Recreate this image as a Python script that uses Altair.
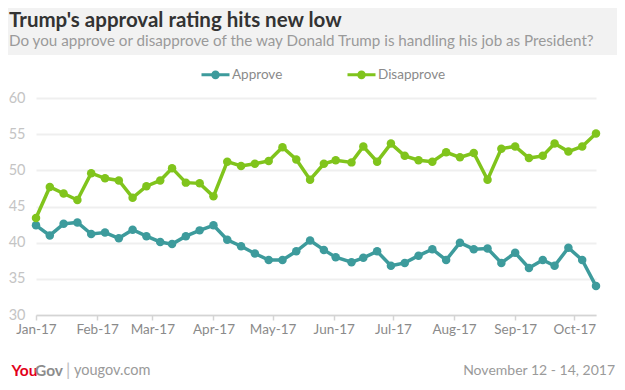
import altair as alt
import pandas as pd

# ---- data ----
dates = [
    "2017/01/01", "2017/01/08", "2017/01/15", "2017/01/22", "2017/01/29",
    "2017/02/05", "2017/02/12", "2017/02/19", "2017/02/26", "2017/03/05",
    "2017/03/11", "2017/03/18", "2017/03/25", "2017/04/01", "2017/04/08",
    "2017/04/15", "2017/04/22", "2017/04/29", "2017/05/06", "2017/05/13",
    "2017/05/20", "2017/05/27", "2017/06/02", "2017/06/10", "2017/06/16",
    "2017/06/23", "2017/06/30", "2017/07/07", "2017/07/14", "2017/07/21",
    "2017/07/28", "2017/08/04", "2017/08/11", "2017/08/18", "2017/08/25",
    "2017/09/01", "2017/09/08", "2017/09/15", "2017/09/21", "2017/09/28",
    "2017/10/05", "2017/10/12",
]
approve = [
    42.4, 41.0, 42.6, 42.8, 41.2, 41.4, 40.6, 41.8, 40.9, 40.1,
    39.8, 40.9, 41.7, 42.4, 40.4, 39.5, 38.5, 37.6, 37.6, 38.8,
    40.3, 39.0, 38.0, 37.3, 37.9, 38.8, 36.8, 37.2, 38.2, 39.1,
    37.6, 40.0, 39.1, 39.2, 37.2, 38.6, 36.5, 37.6, 36.8, 39.3,
    37.6, 34.0,
]
disapprove = [
    43.4, 47.7, 46.8, 45.9, 49.6, 48.9, 48.6, 46.2, 47.8, 48.6,
    50.3, 48.3, 48.2, 46.4, 51.2, 50.6, 50.9, 51.3, 53.2, 51.5,
    48.7, 50.9, 51.4, 51.1, 53.3, 51.2, 53.7, 52.0, 51.4, 51.2,
    52.5, 51.8, 52.4, 48.7, 53.0, 53.3, 51.7, 52.0, 53.7, 52.6,
    53.3, 55.1,
]
series = ["Approve", "Disapprove"]
colors = ["#3d9b9c", "#80c41c"]
month_ticks = [alt.DateTime(year=2017, month=m, date=1) for m in range(1, 11)]

title_text = "Trump's approval rating hits new low"
subtitle_text = "Do you approve or disapprove of the way Donald Trump is handling his job as President?"
date_text = "November 12 - 14, 2017"

rows = []
for d, a, b in zip(dates, approve, disapprove):
    rows.append({"date": d, "series": "Approve", "value": a})
    rows.append({"date": d, "series": "Disapprove", "value": b})
df = pd.DataFrame(rows)

FONT = "Lato"
W, H = 560, 217

legend = alt.Legend(
    orient="none", legendX=164, legendY=-39, direction="horizontal", title=None,
    symbolType="M-1,0L1,0M0.2,0A0.2,0.2,0,1,1,-0.2,0A0.2,0.2,0,1,1,0.2,0",
    symbolSize=784, symbolStrokeWidth=3, labelFontSize=13.5, labelColor="#8a8a8a",
    labelFont=FONT, columnPadding=58, labelOffset=1,
)

x_enc = alt.X(
    "date:T",
    scale=alt.Scale(domain=[alt.DateTime(year=2017, month=1, date=1),
                            alt.DateTime(year=2017, month=10, date=12)], nice=False),
    axis=alt.Axis(values=month_ticks, format="%b-%y", title=None, grid=False,
                  domainColor="#d4d4d4", domainWidth=1.5, tickColor="#d4d4d4",
                  tickSize=5, tickWidth=1.5, labelColor="#8a8a8a", labelFontSize=13.5,
                  labelFont=FONT, labelPadding=2, labelFlush=False),
)
y_enc = alt.Y(
    "value:Q",
    scale=alt.Scale(domain=[30, 60], nice=False, zero=False),
    axis=alt.Axis(values=[30, 35, 40, 45, 50, 55, 60], title=None, domain=False,
                  ticks=False, gridColor="#efefef", gridWidth=2,
                  labelColor="#c4c4c4", labelFontSize=14.5, labelFont=FONT,
                  labelPadding=11),
)
color_enc = alt.Color("series:N", scale=alt.Scale(domain=series, range=colors),
                      legend=legend)

base = alt.Chart(df)
lines = base.mark_line(strokeWidth=3.5).encode(x=x_enc, y=y_enc, color=color_enc)
points = base.mark_circle(size=72, opacity=1).encode(x=x_enc, y=y_enc, color=color_enc)

band = alt.Chart(pd.DataFrame({"a": [0]})).mark_rect(color="#f2f2f2").encode(
    x=alt.value(-28), x2=alt.value(W + 21), y=alt.value(-90), y2=alt.value(-43))

def txt(t, x, y, size, color, weight="normal", align="left"):
    return alt.Chart(pd.DataFrame({"t": [t]})).mark_text(
        align=align, baseline="middle", font=FONT, fontSize=size,
        fontWeight=weight, color=color).encode(
        text="t:N", x=alt.value(x), y=alt.value(y))

title = txt(title_text, -27, -77, 20.5, "#333333", "bold")
subtitle = txt(subtitle_text, -27, -57, 15.2, "#9a9a9a")
FY = 273
you = txt("You", -24.5, FY, 15.5, "#e2001a", "bold")
gov = txt("Gov", -1, FY, 15.5, "#8c8c8c", "bold")
bar = txt("|", 30, FY, 17, "#bdbdbd")
site = txt("yougov.com", 38, FY, 14.5, "#9a9a9a")
when = txt(date_text, 579, FY, 14, "#9a9a9a", align="right")

chart = alt.layer(band, title, subtitle, lines, points, you, gov, bar, site, when).properties(
    width=W, height=H,
    autosize=alt.AutoSizeParams(type="none"),
    padding={"left": 28, "top": 90, "right": 21, "bottom": 67},
).configure_view(stroke=None)

chart.save("out.html", embed_options={"renderer": "svg", "actions": False})
